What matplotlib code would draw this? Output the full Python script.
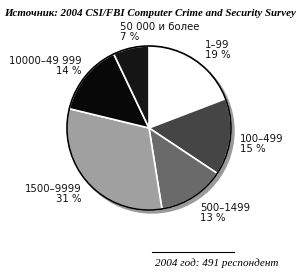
import numpy as np
import matplotlib
matplotlib.use("Agg")
import matplotlib.pyplot as plt
from matplotlib.patches import Circle

# Data
labels = ["1–99", "100–499", "500–1499", "1500–9999", "10000–49 999", "50 000 и более"]
shares = [19, 15, 13, 31, 14, 7]
colors = ["#ffffff", "#454545", "#6a6a6a", "#a0a0a0", "#080808", "#151515"]
title = "Источник: 2004 CSI/FBI Computer Crime and Security Survey"
footer = "2004 год: 491 респондент"

W, H = 300, 272
fig = plt.figure(figsize=(W / 100, H / 100), dpi=100)
ax = fig.add_axes([0, 0, 1, 1])

cx, cy, r = 149, 128, 82

# shadow
ax.add_patch(Circle((cx + 3, cy + 3), r, color="#9a9a9a", zorder=0))

# pie (y axis is inverted, so counterclock=True reads clockwise)
ax.pie(shares, colors=colors, startangle=-90, counterclock=True,
       center=(cx, cy), radius=r,
       wedgeprops=dict(edgecolor="white", linewidth=1.2), frame=True)
ax.set_xlim(0, W)
ax.set_ylim(H, 0)
ax.set_aspect("equal")
ax.axis("off")
ax.add_patch(Circle((cx, cy), r, fill=False, edgecolor="black", lw=1.2, zorder=5))

# labels
lab_pos = [(205, 50, "left"), (240, 144, "left"), (200, 213, "left"),
           (82, 194, "right"), (82, 66, "right"), (120, 32, "left")]
for (x, y, ha), lab, s in zip(lab_pos, labels, shares):
    ax.text(x, y, f"{lab}\n{s} %", ha=ha, va="center", fontsize=7.3,
            family="DejaVu Sans", linespacing=1.05, color="#111111")

ax.text(150, 13, title, ha="center", va="center", fontsize=7.8,
        family="Liberation Serif", style="italic", weight="bold")
ax.plot([152, 234], [252, 252], color="black", lw=0.8)
ax.text(278, 263, footer, ha="right", va="center", fontsize=8,
        family="Liberation Serif", style="italic")

fig.savefig("out.png", dpi=100)
